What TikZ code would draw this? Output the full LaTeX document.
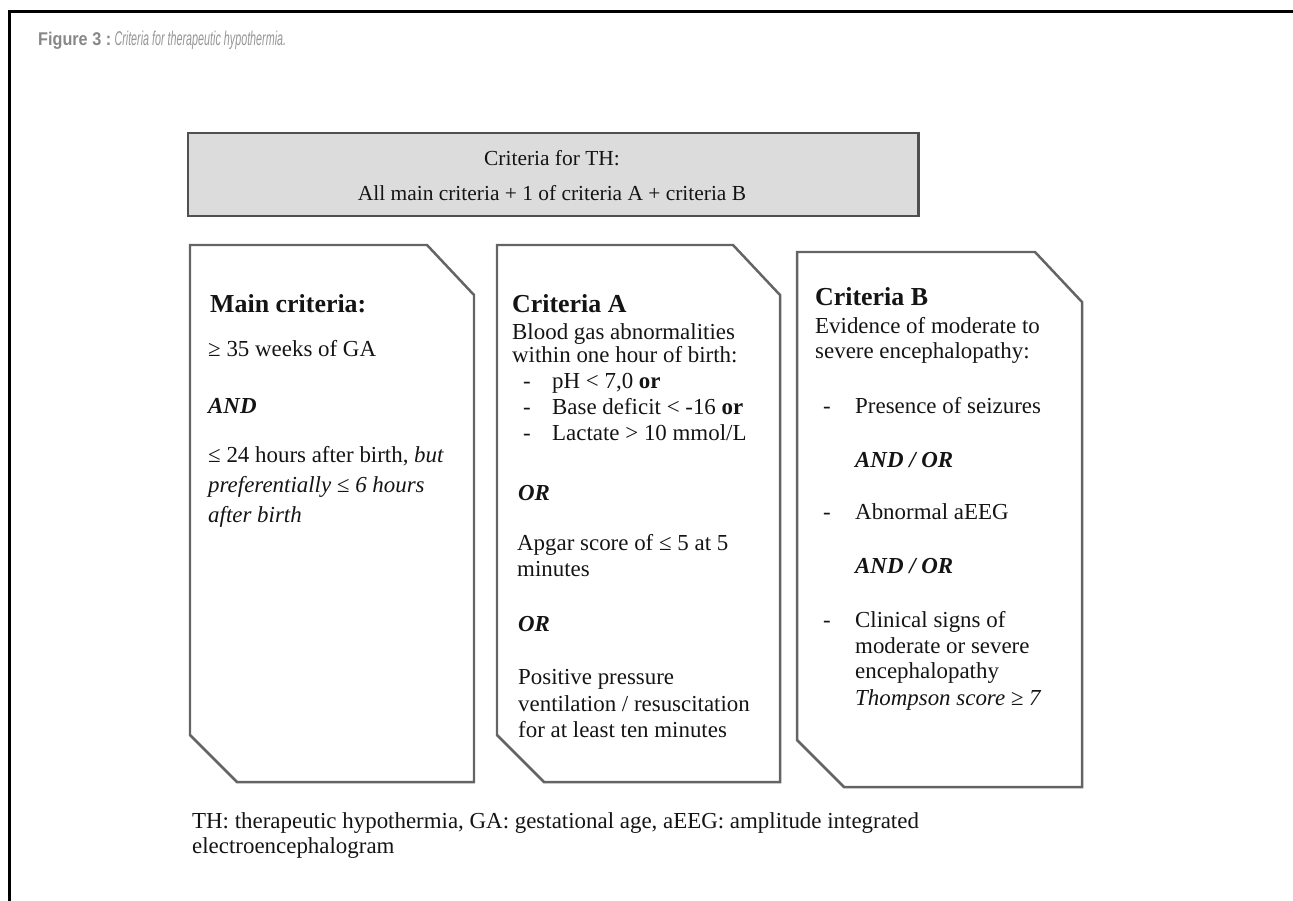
\documentclass[tikz,border=0pt]{standalone}
\usepackage{fontspec}
\setmainfont{Liberation Serif}
\newfontfamily\capboldfont[FakeStretch=0.88]{Liberation Sans Bold}
\newfontfamily\capitfont[FakeStretch=0.54]{Liberation Sans Italic}
\definecolor{framegray}{RGB}{100,100,100}
\definecolor{headfill}{RGB}{220,220,220}
\definecolor{inkgray}{RGB}{20,20,20}
\definecolor{capgray}{RGB}{135,135,135}
\definecolor{capgraylt}{RGB}{150,150,150}

% box with the top-right and bottom-left corners cut off
\newcommand\cutbox[4]{%
  \draw[boxline] (#1,#2) -- (#3-47,#2) -- (#3,#2+50) -- (#3,#4)
    -- (#1+47,#4) -- (#1,#4-47) -- cycle;}

\tikzset{
  boxline/.style={draw=framegray, line width=2.5pt, line join=miter},
  txt/.style={anchor=base west, inner sep=0pt, text=inkgray,
    font=\fontsize{23}{26}\selectfont},
  headtxt/.style={txt, font=\fontsize{26}{30}\selectfont\bfseries},
  toptxt/.style={anchor=base, inner sep=0pt, text=inkgray,
    font=\fontsize{21.5}{25}\selectfont},
}

\begin{document}
\begin{tikzpicture}[x=1bp,y=-1bp]
\useasboundingbox (0,0) rectangle (1293,901);

% page frame (top and left rules)
\draw[line width=3bp, black] (8,11) -- (1293,11);
\draw[line width=3bp, black] (9,11) -- (9,901);

% caption
\node[anchor=base west, inner sep=0pt]
  (cap) at (38,45) {\textcolor{capgray}{\capboldfont\fontsize{18.5}{21}\selectfont Figure 3 :} \textcolor{capgraylt}{\capitfont\fontsize{20}{22}\selectfont Criteria for therapeutic hypothermia.}};

% heading box
\node[draw=framegray!80!black, line width=2.5pt, fill=headfill, minimum width=730bp,
  minimum height=83bp, inner sep=0pt, anchor=north west] (hdr) at (187,132) {};
\node[toptxt] (hdr1) at (552,165) {Criteria for TH:};
\node[toptxt] (hdr2) at (552,200) {All main criteria + 1 of criteria A + criteria B};

% the three criteria boxes
\cutbox{190}{245}{474}{782}
\cutbox{497}{245}{780}{782}
\cutbox{797}{252}{1082}{787}

% main criteria
\node[headtxt] (m0) at (210,312) {Main criteria:};
\node[txt] (m1) at (208,356) {≥ 35 weeks of GA};
\node[txt] (m2) at (208,413) {\bfseries\itshape AND};
\node[txt] (m3) at (208,462) {≤ 24 hours after birth, \itshape but};
\node[txt] (m4) at (208,492) {\itshape preferentially ≤ 6 hours};
\node[txt] (m5) at (208,522) {\itshape after birth};

% criteria A
\node[headtxt] (a0) at (512,312) {Criteria A};
\node[txt] (a1) at (512,339) {Blood gas abnormalities};
\node[txt] (a2) at (512,362) {within one hour of birth:};
\node[txt] (a3d) at (523,388) {-};
\node[txt] (a3) at (552,388) {pH < 7,0 \textbf{or}};
\node[txt] (a4d) at (523,414) {-};
\node[txt] (a4) at (552,414) {Base deficit < -16 \textbf{or}};
\node[txt] (a5d) at (523,440) {-};
\node[txt] (a5) at (552,440) {Lactate > 10 mmol/L};
\node[txt] (a6) at (518,500) {\bfseries\itshape OR};
\node[txt] (a7) at (517,550) {Apgar score of ≤ 5 at 5};
\node[txt] (a8) at (517,576) {minutes};
\node[txt] (a9) at (518,631) {\bfseries\itshape OR};
\node[txt] (a10) at (518,684) {Positive pressure};
\node[txt] (a11) at (518,711) {ventilation / resuscitation};
\node[txt] (a12) at (518,737) {for at least ten minutes};

% criteria B
\node[headtxt] (b0) at (815,305) {Criteria B};
\node[txt] (b1) at (815,333) {Evidence of moderate to};
\node[txt] (b2) at (815,358) {severe encephalopathy:};
\node[txt] (b3d) at (823,413) {-};
\node[txt] (b3) at (855,413) {Presence of seizures};
\node[txt] (b4) at (855,467) {\bfseries\itshape AND / OR};
\node[txt] (b5d) at (823,519) {-};
\node[txt] (b5) at (855,519) {Abnormal aEEG};
\node[txt] (b6) at (855,573) {\bfseries\itshape AND / OR};
\node[txt] (b7d) at (823,627) {-};
\node[txt] (b7) at (855,627) {Clinical signs of};
\node[txt] (b8) at (855,653) {moderate or severe};
\node[txt] (b9) at (855,678) {encephalopathy};
\node[txt] (b10) at (855,705) {\itshape Thompson score ≥ 7};

% footnote
\node[txt] (f1) at (192,828) {TH: therapeutic hypothermia, GA: gestational age, aEEG: amplitude integrated};
\node[txt] (f2) at (192,853) {electroencephalogram};
\end{tikzpicture}
\end{document}
